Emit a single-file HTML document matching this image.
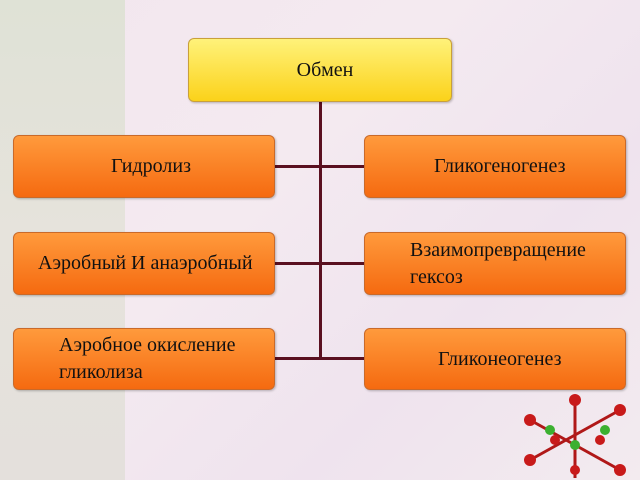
<!DOCTYPE html>
<html><head><meta charset="utf-8"><style>
body{margin:0;width:640px;height:480px;overflow:hidden;position:relative;font-family:"Liberation Serif",serif;
background:linear-gradient(135deg,#f2e6ee 0%,#f4eaf0 40%,#efe3ee 70%,#f3ebef 100%);}
.strip{position:absolute;left:0;top:0;width:125px;height:480px;background:linear-gradient(180deg,#dfe2d6,#e6e3dc 50%,#e4e0dc);}
.b{position:absolute;border-radius:6px;border:1px solid #c96a2a;background:linear-gradient(180deg,#ff9a3c,#f56a10);box-shadow:1px 1px 2px rgba(0,0,0,.25);font-size:20px;color:#111;display:flex;align-items:center;box-sizing:border-box;white-space:nowrap;}
.top{background:linear-gradient(180deg,#fff27a,#fbd21a);border-color:#c9a03a;}
.l{position:absolute;background:#5a1020;}
</style></head><body>
<div class="strip"></div>
<div class="l" style="left:319px;top:102px;width:3px;height:257px"></div>
<div class="l" style="left:275px;top:165px;width:89px;height:3px"></div>
<div class="l" style="left:275px;top:262px;width:89px;height:3px"></div>
<div class="l" style="left:275px;top:357px;width:89px;height:3px"></div>
<div class="b top" style="left:188px;top:38px;width:264px;height:64px;justify-content:center;padding-left:10px">Обмен</div>
<div class="b" style="left:13px;top:135px;width:262px;height:63px;padding-left:97px">Гидролиз</div>
<div class="b" style="left:364px;top:135px;width:262px;height:63px;padding-left:69px">Гликогеногенез</div>
<div class="b" style="left:13px;top:232px;width:262px;height:63px;padding-left:24px">Аэробный И анаэробный</div>
<div class="b" style="left:364px;top:232px;width:262px;height:63px;padding-left:45px;line-height:27px">Взаимопревращение<br>гексоз</div>
<div class="b" style="left:13px;top:328px;width:262px;height:62px;padding-left:45px;line-height:27px">Аэробное окисление<br>гликолиза</div>
<div class="b" style="left:364px;top:328px;width:262px;height:62px;padding-left:73px">Гликонеогенез</div>
<svg style="position:absolute;left:510px;top:390px" width="130" height="90">
<g stroke="#b01818" stroke-width="3"><line x1="20" y1="30" x2="110" y2="80"/><line x1="20" y1="70" x2="110" y2="20"/><line x1="65" y1="5" x2="65" y2="88"/></g>
<g fill="#c81a1a"><circle cx="20" cy="30" r="6"/><circle cx="110" cy="80" r="6"/><circle cx="20" cy="70" r="6"/><circle cx="110" cy="20" r="6"/><circle cx="65" cy="10" r="6"/><circle cx="45" cy="50" r="5"/><circle cx="90" cy="50" r="5"/><circle cx="65" cy="80" r="5"/></g>
<g fill="#3cb030"><circle cx="40" cy="40" r="5"/><circle cx="95" cy="40" r="5"/><circle cx="65" cy="55" r="5"/></g>
</svg>
</body></html>
